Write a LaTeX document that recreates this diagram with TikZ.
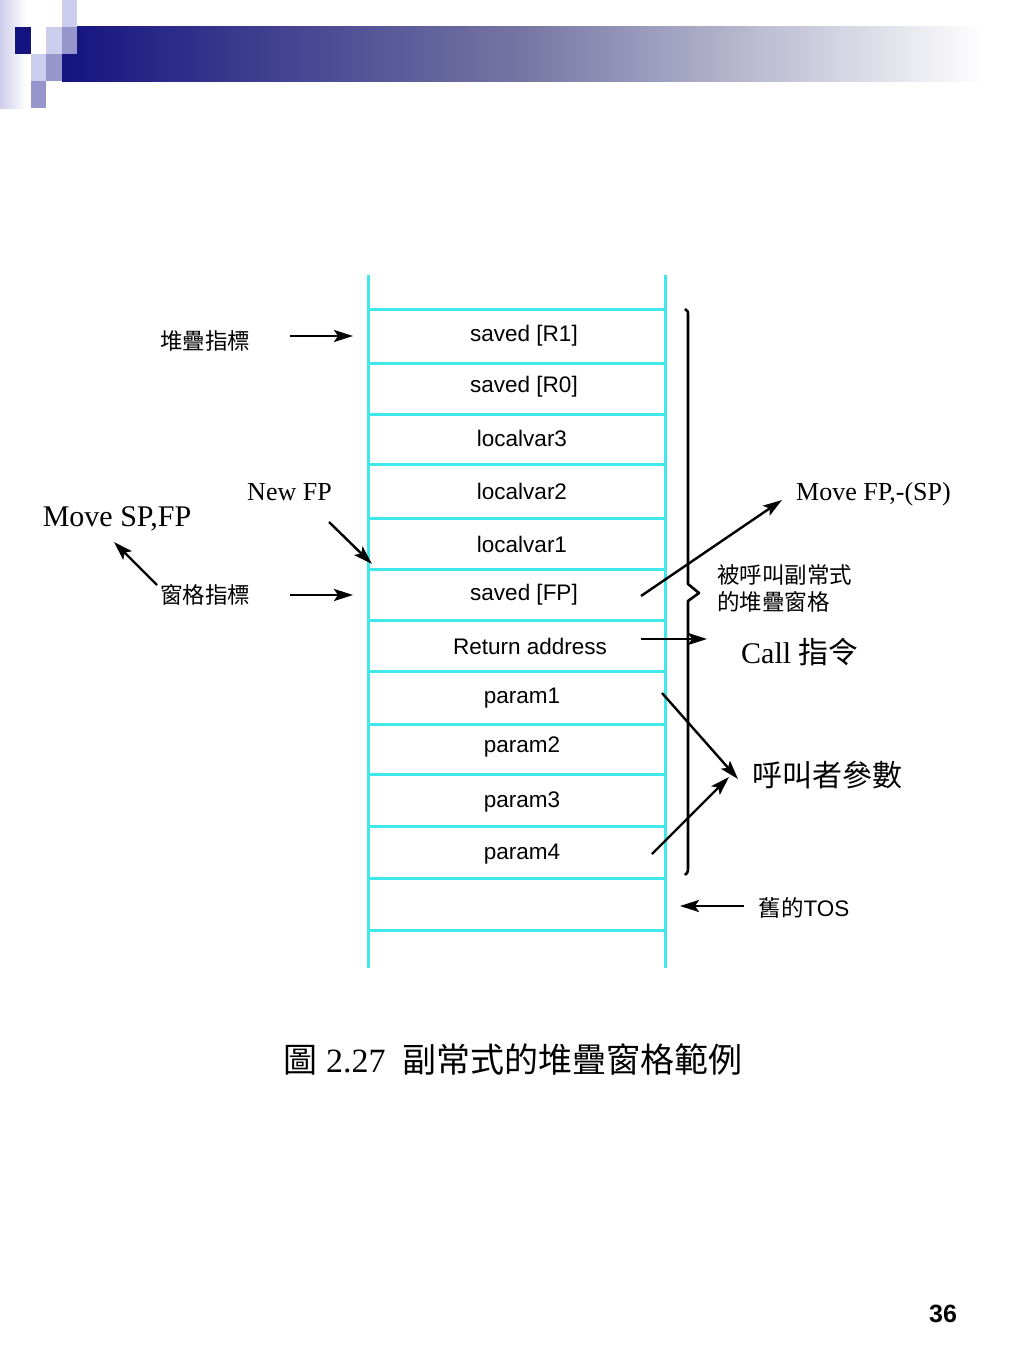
\documentclass[tikz,border=0pt]{standalone}
\usepackage{fontspec}
\setmainfont{Liberation Serif}
\newfontfamily\arfont{Liberation Sans}
\newfontfamily\cjk{Noto Sans CJK TC}
\usetikzlibrary{arrows.meta}
\definecolor{stackcyan}{RGB}{64,232,236}
\definecolor{navy}{RGB}{20,20,128}
\definecolor{lav}{RGB}{204,204,236}
\definecolor{midlav}{RGB}{150,150,204}
\begin{document}
\begin{tikzpicture}[x=1pt,y=-1pt,
  cell/.style={stackcyan,line width=3pt},
  lbl/.style={inner sep=0pt,font=\arfont\fontsize{22.5}{24}\selectfont},
  cjklbl/.style={inner sep=0pt,font=\cjk\fontsize{22.5}{26}\selectfont},
  bigcjk/.style={inner sep=0pt,font=\cjk\fontsize{30}{34}\selectfont},
  serif26/.style={inner sep=0pt,font=\fontsize{26}{28}\selectfont},
  serif30/.style={inner sep=0pt,font=\fontsize{30}{32}\selectfont},
  arr/.style={line width=2.4pt,-{Stealth[length=19pt,width=12pt,inset=4pt]}},
  bracepath/.style={line width=2.6pt,line join=round}]
\useasboundingbox (0,0) rectangle (1024,1365);
\fill[white] (0,0) rectangle (1024,1365);
% header decoration
\shade[left color=lav,right color=white] (0,0) rectangle (26,108);
\shade[left color=navy,right color=white,middle color={rgb,255:red,118;green,118;blue,164}] (62,26) rectangle (985,81);
\fill[navy] (15,27) rectangle (31,54);
\fill[lav] (46,27) rectangle (62,54);
\fill[midlav] (62,27) rectangle (77,54);
\fill[lav] (62,0) rectangle (77,27);
\fill[lav] (31,54) rectangle (46,81);
\fill[midlav] (46,54) rectangle (62,81);
\fill[midlav] (31,81) rectangle (46,108);
% stack
\draw[cell] (368,275) -- (368,968);
\draw[cell] (665,275) -- (665,968);
\foreach \yy in {309,363,414,464,518,569,620,671,724,774,826,878,930}
  \draw[cell] (368,\yy) -- (665,\yy);
\node[lbl] (r1) at (524,336) {saved [R1]};
\node[lbl] (r0) at (524,387) {saved [R0]};
\node[lbl] (lv3) at (522,438) {localvar3};
\node[lbl] (lv2) at (522,491) {localvar2};
\node[lbl] (lv1) at (522,544) {localvar1};
\node[lbl] (sfp) at (524,595) {saved [FP]};
\node[lbl] (ret) at (530,646) {Return address};
\node[lbl] (p1) at (522,698) {param1};
\node[lbl] (p2) at (522,747) {param2};
\node[lbl] (p3) at (522,802) {param3};
\node[lbl] (p4) at (522,854) {param4};
% brace
\draw[bracepath] (685,309) .. controls (688,310) and (688,312) .. (688,316)
  -- (688,584) -- (699,593) -- (688,601) -- (688,868)
  .. controls (688,872) and (687,874) .. (685,875);
% left labels
\node[cjklbl] (sp) at (205,341) {堆疊指標};
\node[cjklbl] (fp) at (205,595) {窗格指標};
\node[serif26,anchor=base] (newfp) at (289.5,500) {New FP};
\node[serif30,anchor=base] (movesp) at (117,526) {Move SP,FP};
\coordinate (spS) at (290,336); \coordinate (spE) at (353,336);
\coordinate (fpS) at (290,595); \coordinate (fpE) at (353,595);
\coordinate (nfS) at (329,522); \coordinate (nfE) at (372,564);
\coordinate (msS) at (157,585); \coordinate (msE) at (114,542);
\draw[arr] (spS) -- (spE);
\draw[arr] (fpS) -- (fpE);
\draw[arr] (nfS) -- (nfE);
\draw[arr] (msS) -- (msE);
% right labels
\node[serif26,anchor=base] (movefp) at (873.5,500) {Move FP,-(SP)};
\node[cjklbl,anchor=west] (callee1) at (717,575) {被呼叫副常式};
\node[cjklbl,anchor=west] (callee2) at (717,602) {的堆疊窗格};
\node[serif30,anchor=base west] (call) at (741,663) {Call {\cjk 指令}};
\node[bigcjk] (args) at (827,775) {呼叫者參數};
\node[lbl] (tos) at (804,908) {{\cjk 舊的}TOS};
\coordinate (mfS) at (641,596); \coordinate (mfE) at (782,500);
\coordinate (clS) at (641,639); \coordinate (clE) at (707,639);
\coordinate (a1S) at (662,693); \coordinate (a1E) at (738,779);
\coordinate (a2S) at (652,854); \coordinate (a2E) at (729,777);
\coordinate (tosS) at (744,906); \coordinate (tosE) at (680,906);
\draw[arr] (mfS) -- (mfE);
\draw[arr] (clS) -- (clE);
\draw[arr] (a1S) -- (a1E);
\draw[arr] (a2S) -- (a2E);
\draw[arr] (tosS) -- (tosE);
% caption
\node[inner sep=0pt,font=\fontsize{34}{36}\selectfont] (cap) at (513,1059) {{\cjk 圖} 2.27\ \ {\cjk 副常式的堆疊窗格範例}};
\node[inner sep=0pt,font=\arfont\bfseries\fontsize{25}{26}\selectfont] (pg) at (943,1314) {36};
\end{tikzpicture}
\end{document}
